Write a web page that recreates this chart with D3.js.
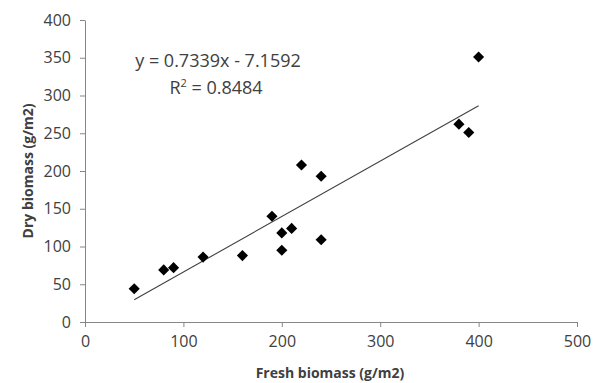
<!DOCTYPE html>
<html>
<head>
<meta charset="utf-8">
<script src="https://cdn.jsdelivr.net/npm/d3@7"></script>
<style>
  body { margin: 0; background: #fff; }
  text { font-family: "Open Sans", "Liberation Sans", sans-serif; }
</style>
</head>
<body>
<div id="chart"></div>
<script>
// fresh biomass (x) vs dry biomass (y), g/m2
const freshBiomass = [50, 80, 90, 120, 160, 190, 200, 200, 210, 220, 240, 240, 380, 390, 400];
const dryBiomass   = [44, 69, 72, 86, 88, 140, 118, 95, 124, 208, 193, 109, 262, 251, 351];

const xTicks = [0, 100, 200, 300, 400, 500];
const yTicks = [0, 50, 100, 150, 200, 250, 300, 350, 400];

// linear trendline as printed on the chart
const slope = 0.7339;
const intercept = -7.1592;
const eqLabel = "y = 0.7339x - 7.1592";
const r2Label = "0.8484";

const width = 594, height = 383;
const margin = {top: 20, right: 17, bottom: 61, left: 85};

const svg = d3.select("#chart")
    .append("svg")
    .attr("width", width)
    .attr("height", height);

const x = d3.scaleLinear()
    .domain([0, 500])
    .range([margin.left, width - margin.right]);

const y = d3.scaleLinear()
    .domain([0, 400])
    .range([height - margin.bottom, margin.top]);

const axisColor = "#868686";
const labelColor = "#404040";

const xAxis = svg.append("g")
    .attr("transform", `translate(0,${y(0)})`)
    .call(d3.axisBottom(x).tickValues(xTicks).tickSize(5).tickPadding(9).tickSizeOuter(0));

const yAxis = svg.append("g")
    .attr("transform", `translate(${x(0)},0)`)
    .call(d3.axisLeft(y).tickValues(yTicks).tickSize(5).tickPadding(9).tickSizeOuter(0));

[xAxis, yAxis].forEach(g => {
    g.select(".domain").attr("stroke", axisColor);
    g.selectAll(".tick line").attr("stroke", axisColor);
    g.selectAll(".tick text")
        .attr("fill", labelColor)
        .style("font-size", "16px");
});

// trendline over the data range
const xr = d3.extent(freshBiomass);
svg.append("line")
    .attr("x1", x(xr[0]))
    .attr("y1", y(slope * xr[0] + intercept))
    .attr("x2", x(xr[1]))
    .attr("y2", y(slope * xr[1] + intercept))
    .attr("stroke", "#404040")
    .attr("stroke-width", 1.1);

// diamond markers
const diamond = d3.symbol().type(d3.symbolSquare).size(62);
svg.selectAll("path.pt")
    .data(freshBiomass.map((f, i) => ({f, d: dryBiomass[i]})))
    .enter()
    .append("path")
    .attr("class", "pt")
    .attr("d", diamond)
    .attr("transform", d => `translate(${x(d.f)},${y(d.d)}) rotate(45)`)
    .attr("fill", "#000");

// equation text
svg.append("text")
    .attr("x", 218)
    .attr("y", 67)
    .attr("text-anchor", "middle")
    .attr("fill", labelColor)
    .style("font-size", "18px")
    .text(eqLabel);

const r2 = svg.append("text")
    .attr("x", 216)
    .attr("y", 94)
    .attr("text-anchor", "middle")
    .attr("fill", labelColor)
    .style("font-size", "18px");
r2.append("tspan").text("R");
r2.append("tspan").attr("dy", -7).style("font-size", "11px").text("2");
r2.append("tspan").attr("dy", 7).text(" = " + r2Label);

// axis titles
svg.append("text")
    .attr("x", 330)
    .attr("y", 378)
    .attr("text-anchor", "middle")
    .attr("font-weight", "bold")
    .attr("fill", labelColor)
    .style("font-size", "14px")
    .text("Fresh biomass (g/m2)");

svg.append("text")
    .attr("transform", `translate(33,${171}) rotate(-90)`)
    .attr("text-anchor", "middle")
    .attr("font-weight", "bold")
    .attr("fill", labelColor)
    .style("font-size", "14px")
    .text("Dry biomass (g/m2)");
</script>
</body>
</html>
